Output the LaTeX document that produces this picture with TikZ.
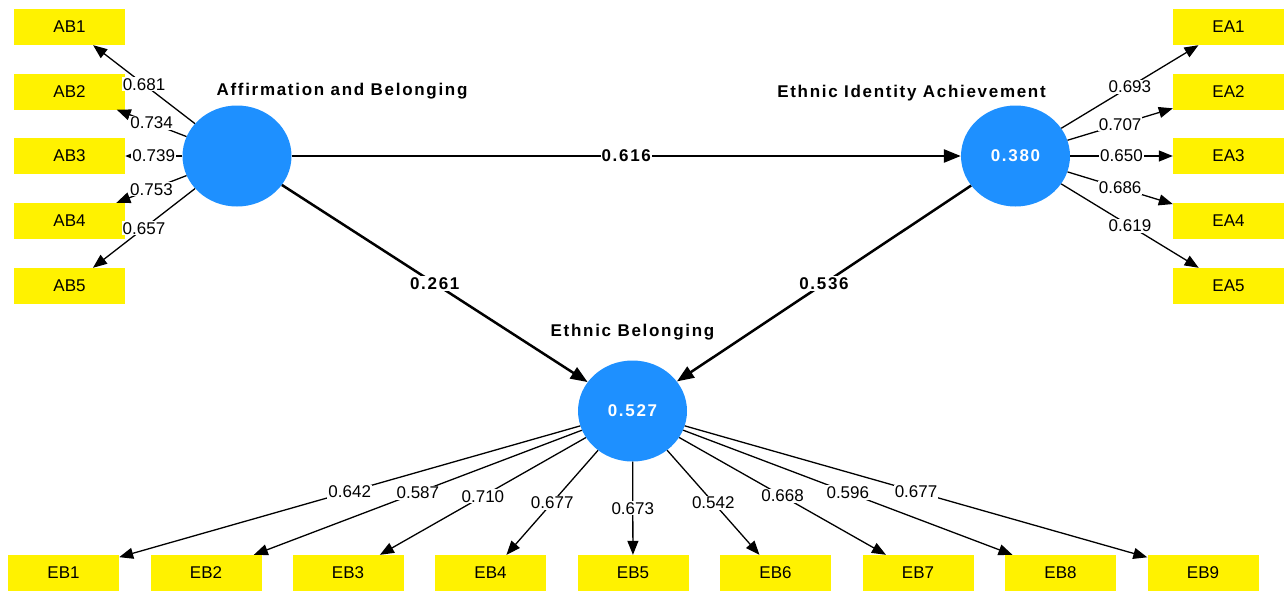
\documentclass[tikz,border=0pt]{standalone}
\usepackage{fontspec}
\setmainfont{Liberation Sans}
\newfontfamily\trk[LetterSpace=10]{Liberation Sans}
\usetikzlibrary{shapes.geometric,arrows.meta}
\definecolor{latblue}{RGB}{30,144,255}
\begin{document}
\begin{tikzpicture}[x=1pt,y=-1pt,
 ind/.style={fill=yellow, minimum width=111pt, minimum height=36pt, inner sep=0pt, font=\fontsize{17}{20}\selectfont},
 lat/.style={ellipse, fill=latblue, minimum width=109pt, minimum height=101pt, inner sep=0pt, text=white, font=\trk\bfseries\fontsize{17}{20}\selectfont},
 ttl/.style={anchor=base, font=\trk\bfseries\fontsize{17}{20}\selectfont},
 ld/.style={draw=black, line width=1.3pt, -{Triangle[length=14pt,width=11pt]}},
 pth/.style={draw=black, line width=2.5pt, -{Triangle[length=17pt,width=13pt]}},
 lv/.style={fill=white, inner sep=1pt, font=\fontsize{17}{20}\selectfont},
 pv/.style={fill=white, inner sep=1pt, font=\trk\bfseries\fontsize{17}{20}\selectfont}]
\useasboundingbox (0,0) rectangle (1284,592);

% indicator boxes
\node[ind] (ab1) at (69.5,27) {AB1};
\node[ind] (ab2) at (69.5,91.5) {AB2};
\node[ind] (ab3) at (69.5,156) {AB3};
\node[ind] (ab4) at (69.5,221) {AB4};
\node[ind] (ab5) at (69.5,286) {AB5};

\node[ind] (ea1) at (1228.5,27) {EA1};
\node[ind] (ea2) at (1228.5,91.5) {EA2};
\node[ind] (ea3) at (1228.5,156) {EA3};
\node[ind] (ea4) at (1228.5,221) {EA4};
\node[ind] (ea5) at (1228.5,286) {EA5};

\node[ind] (eb1) at (63.5,573) {EB1};
\node[ind] (eb2) at (206,573) {EB2};
\node[ind] (eb3) at (348,573) {EB3};
\node[ind] (eb4) at (490.5,573) {EB4};
\node[ind] (eb5) at (633,573) {EB5};
\node[ind] (eb6) at (775.5,573) {EB6};
\node[ind] (eb7) at (918,573) {EB7};
\node[ind] (eb8) at (1060.5,573) {EB8};
\node[ind] (eb9) at (1203,573) {EB9};

% latent variables
\node[lat] (ab) at (237,156) {};
\node[lat] (ea) at (1015.5,156) {0.380};
\node[lat] (eb) at (632.5,411) {0.527};

\node[ttl] (tab) at (342,95) {Affirmation and Belonging};
\node[ttl] (tea) at (911.5,97) {Ethnic Identity Achievement};
\node[ttl] (teb) at (632.5,336) {Ethnic Belonging};

% loadings
\draw[ld] (ab) -- node[lv]{0.681} (ab1);
\draw[ld] (ab) -- node[lv]{0.734} (ab2);
\draw[ld] (ab) -- node[lv]{0.739} (ab3);
\draw[ld] (ab) -- node[lv]{0.753} (ab4);
\draw[ld] (ab) -- node[lv]{0.657} (ab5);

\draw[ld] (ea) -- node[lv]{0.693} (ea1);
\draw[ld] (ea) -- node[lv]{0.707} (ea2);
\draw[ld] (ea) -- node[lv]{0.650} (ea3);
\draw[ld] (ea) -- node[lv]{0.686} (ea4);
\draw[ld] (ea) -- node[lv]{0.619} (ea5);

\draw[ld] (eb) -- node[lv]{0.642} (eb1);
\draw[ld] (eb) -- node[lv]{0.587} (eb2);
\draw[ld] (eb) -- node[lv]{0.710} (eb3);
\draw[ld] (eb) -- node[lv]{0.677} (eb4);
\draw[ld] (eb) -- node[lv]{0.673} (eb5);
\draw[ld] (eb) -- node[lv]{0.542} (eb6);
\draw[ld] (eb) -- node[lv]{0.668} (eb7);
\draw[ld] (eb) -- node[lv]{0.596} (eb8);
\draw[ld] (eb) -- node[lv]{0.677} (eb9);

% structural paths
\draw[pth] (ab) -- node[pv]{0.616} (ea);
\draw[pth] (ab) -- node[pv]{0.261} (eb);
\draw[pth] (ea) -- node[pv]{0.536} (eb);
\end{tikzpicture}
\end{document}
